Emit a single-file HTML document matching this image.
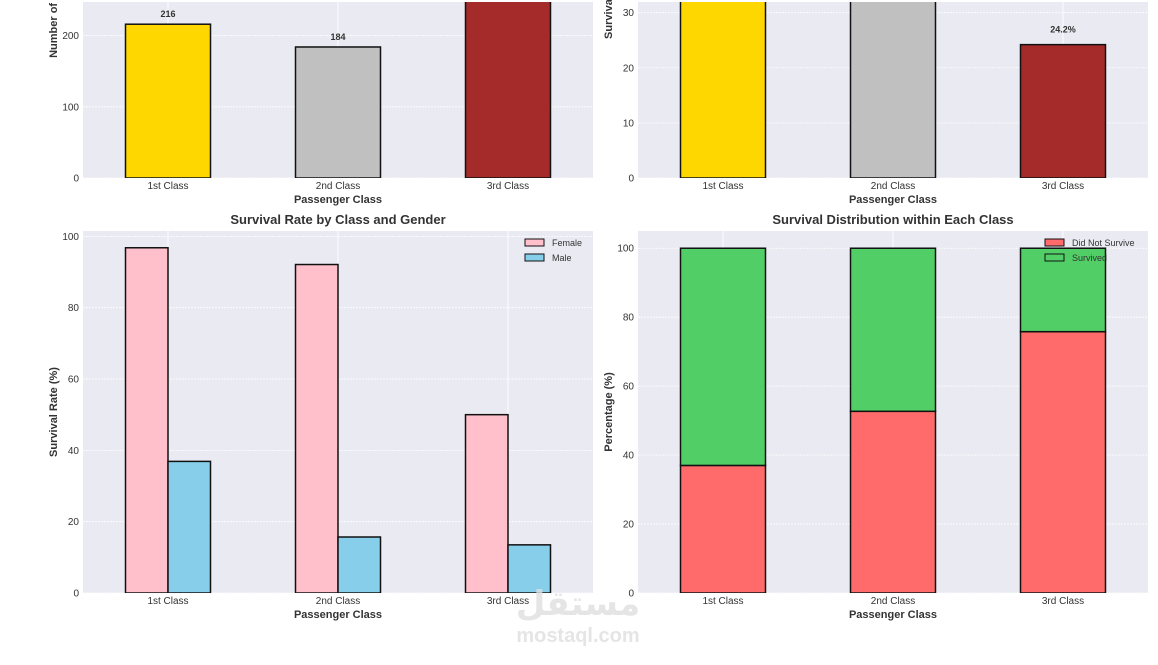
<!DOCTYPE html>
<html><head><meta charset="utf-8"><style>
body{margin:0;background:#fff;width:1158px;height:660px;overflow:hidden;font-family:"Liberation Sans","DejaVu Sans",sans-serif}
</style></head><body>
<svg id="chart" width="1158" height="660" xmlns="http://www.w3.org/2000/svg" font-family="Liberation Sans, DejaVu Sans, sans-serif"></svg>
<script>
const classes = ["1st Class","2nd Class","3rd Class"];
const passengerCounts = [216,184,491];
const survivalRates = [62.96,47.28,24.2];
const femaleRates = [96.8,92.1,50.0];
const maleRates = [36.9,15.7,13.5];
const diedPct = [37.0,52.7,75.8];
const survivedPct = [63.0,47.3,24.2];
const ticksCount = [0,100,200];
const ticksRate = [0,10,20,30];
const ticksPct = [0,20,40,60,80,100];

const svg = document.getElementById('chart');
const NS = 'http://www.w3.org/2000/svg';
function mk(tag, attrs, parent){const e=document.createElementNS(NS,tag);for(const k in attrs)e.setAttribute(k,attrs[k]);(parent||svg).appendChild(e);return e;}
function txt(s,attrs,parent){const e=mk('text',attrs,parent);e.textContent=s;return e;}

function panel(x0,x1,yTop,yBot,vmin,vmax,ticks,name,ylabel,title,ylabelY,bgTop){
  const g=mk('g',{});
  
  
  const bt=(bgTop===undefined)?yTop:bgTop;
  const bg=mk('rect',{x:x0,y:bt,width:x1-x0,height:yBot-bt,fill:'#eaeaf2'},g);
  
  
  const ys=v=>yBot-(v-vmin)/(vmax-vmin)*(yBot-yTop);
  const xs=i=>x0+85+i*170;
  ticks.forEach(t=>{
    const y=ys(t);
    mk('line',{x1:x0,x2:x1,y1:y,y2:y,stroke:'#fff','stroke-width':0.8,'stroke-dasharray':'2,1'},g);
    const l=txt(String(t),{x:x0-4,y:y+3.5,'font-size':10,'text-anchor':'end',fill:'#333'},g);
    
    
  });
  classes.forEach((c,i)=>{
    mk('line',{x1:xs(i),x2:xs(i),y1:bt,y2:yBot,stroke:'#fff','stroke-width':1},g);
    const l=txt(c,{x:xs(i),y:yBot+11,'font-size':10,'text-anchor':'middle',fill:'#333'},g);
    
    
  });
  const xl=txt('Passenger Class',{x:(x0+x1)/2,y:yBot+25,'font-size':11,'font-weight':'bold','text-anchor':'middle',fill:'#333'},g);
  
  
  const cy=(ylabelY===undefined)?(yTop+yBot)/2:ylabelY;
  const yl=txt(ylabel,{x:0,y:0,'font-size':11,'font-weight':'bold','text-anchor':'middle',fill:'#333',transform:`translate(${x0-26},${cy}) rotate(-90)`},g);
  
  
  if(title){const t=txt(title,{x:(x0+x1)/2,y:yTop-7,'font-size':13,'font-weight':'bold','text-anchor':'middle',fill:'#333'},g);
    
    }
  const clip=mk('clipPath',{id:'c'+name},svg);
  mk('rect',{x:x0,y:bt,width:x1-x0,height:yBot-bt},clip);
  const bars=mk('g',{'clip-path':`url(#c${name})`},g);
  return {g,bars,ys,xs};
}
function bar(p,x,w,v0,v1,fill,name){
  const yA=p.ys(v1),yB=p.ys(v0);
  const r=mk('rect',{x:x,y:yA,width:w,height:yB-yA,fill:fill,stroke:'#111','stroke-width':1.5},p.bars);
  
  
  return r;
}

// Top-left: counts
const p1=panel(83,593,0,178,0,250,ticksCount,'passenger-count-panel','Number of Passengers',null,-2,2);
const c1=['#ffd700','#c0c0c0','#a52a2a'];
passengerCounts.forEach((v,i)=>{bar(p1,p1.xs(i)-42.5,85,0,v,c1[i],'count-bar-'+(i+1));
  const l=txt(String(v),{x:p1.xs(i),y:p1.ys(v)-7,'font-size':9,'font-weight':'bold','text-anchor':'middle',fill:'#333'},p1.g);
  
  });

// Top-right: survival rate
const p2=panel(638,1148,0,178,0,32.3,ticksRate,'survival-rate-panel','Survival Rate (%)',null,-6,2);
survivalRates.forEach((v,i)=>{bar(p2,p2.xs(i)-42.5,85,0,v,c1[i],'rate-bar-'+(i+1));
  const l=txt(v.toFixed(1)+'%',{x:p2.xs(i),y:p2.ys(v)-12,'font-size':9,'font-weight':'bold','text-anchor':'middle',fill:'#333'},p2.g);
  
  });

// Bottom-left: gender
const p3=panel(83,593,231,593,0,101.5,ticksPct,'gender-survival-panel','Survival Rate (%)','Survival Rate by Class and Gender');
femaleRates.forEach((v,i)=>bar(p3,p3.xs(i)-42.5,42.5,0,v,'#ffc0cb','female-bar-'+(i+1)));
maleRates.forEach((v,i)=>bar(p3,p3.xs(i),42.5,0,v,'#87ceeb','male-bar-'+(i+1)));
[['Female','#ffc0cb',243],['Male','#87ceeb',258]].forEach(([n,c,y])=>{
  const lg=mk('g',{},p3.g);
  
  
  mk('rect',{x:525,y:y-4,width:19,height:7,fill:c,stroke:'#111','stroke-width':1},lg);
  txt(n,{x:552,y:y+3,'font-size':9,fill:'#333'},lg);
});

// Bottom-right: stacked
const p4=panel(638,1148,231,593,0,105,ticksPct,'survival-distribution-panel','Percentage (%)','Survival Distribution within Each Class');
diedPct.forEach((v,i)=>bar(p4,p4.xs(i)-42.5,85,0,v,'#ff6b6b','died-bar-'+(i+1)));
survivedPct.forEach((v,i)=>bar(p4,p4.xs(i)-42.5,85,diedPct[i],diedPct[i]+v,'#51cf66','survived-bar-'+(i+1)));
[['Did Not Survive','#ff6b6b',243],['Survived','#51cf66',258]].forEach(([n,c,y])=>{
  const lg=mk('g',{},p4.g);
  
  
  mk('rect',{x:1045,y:y-4,width:19,height:7,fill:c,stroke:'#111','stroke-width':1},lg);
  txt(n,{x:1072,y:y+3,'font-size':9,fill:'#333'},lg);
});

// watermark
const wm=txt('مستقل',{x:578,y:615,'font-size':34,'font-weight':'bold','text-anchor':'middle',fill:'#dedede','fill-opacity':0.8});


const wm2=txt('mostaql.com',{x:578,y:642,'font-size':20,'font-weight':'bold','text-anchor':'middle',fill:'#dedede','fill-opacity':0.8});


</script>
</body></html>
